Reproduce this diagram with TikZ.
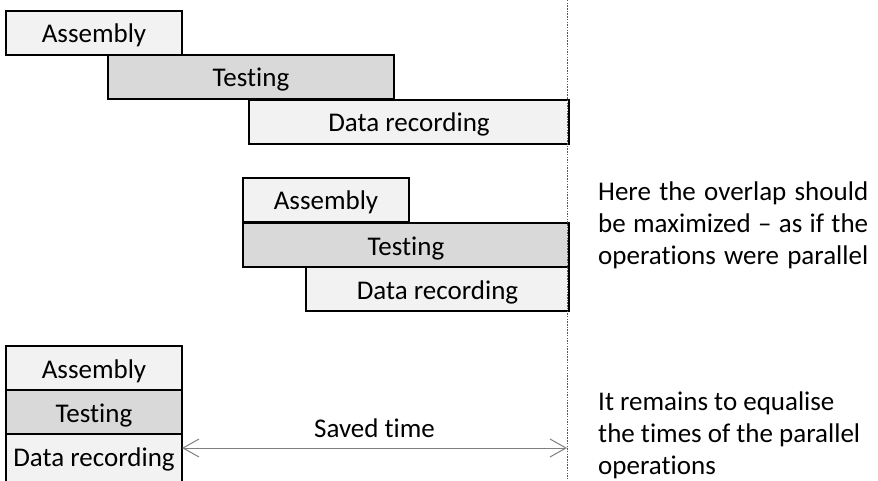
\documentclass[tikz,border=0pt]{standalone}
\usepackage{fontspec}
\setmainfont{Carlito}[Ligatures={TeX,CommonOff}]
\usetikzlibrary{arrows.meta}
\definecolor{opLight}{HTML}{F2F2F2}
\definecolor{opDark}{HTML}{D9D9D9}
\definecolor{guideGray}{HTML}{7F7F7F}
\definecolor{dashGray}{HTML}{595959}
\tikzset{
  opbox/.style={draw=black, line width=2pt, anchor=north west, minimum height=44pt,
    inner xsep=2pt, text height=23pt, text depth=3pt},
  lightop/.style={opbox, fill=opLight},
  darkop/.style={opbox, fill=opDark},
  note/.style={anchor=west, align=left, inner sep=0pt},
}
\begin{document}
\begin{tikzpicture}[x=1pt,y=-1pt,font=\fontsize{27pt}{32pt}\selectfont]
			\useasboundingbox (0,0) rectangle (878,481);
			% sequential
			\node[lightop, minimum width=176pt] (asmTop) at (5,10) {Assembly};
			\node[darkop, minimum width=286pt] (tstTop) at (107,54) {Testing};
			\node[lightop, minimum width=320pt] (recTop) at (248,99) {Data recording};
			% overlapped
			\node[lightop, minimum width=166pt] (asmMid) at (242,177) {Assembly};
			\node[darkop, minimum width=326pt] (tstMid) at (242,222) {Testing};
			\node[lightop, minimum width=263pt] (recMid) at (305,266) {Data recording};
			% parallel
			\node[lightop, minimum width=176pt] (asmBot) at (5,345) {Assembly};
			\node[darkop, minimum width=176pt] (tstBot) at (5,389) {Testing};
			\node[lightop, minimum width=176pt, inner ysep=0pt, text height=32pt, text depth=20pt] (recBot) at (5,433) {Data recording};
			\coordinate (guideTop) at (567.5,0);
			\coordinate (guideBot) at (567.5,481);
			\draw[dashGray, line width=1pt, dash pattern=on 1.5pt off 1.2pt] (guideTop) -- (guideBot);
			\coordinate (savedL) at (182,448);
			\coordinate (savedR) at (567,448);
			\draw[guideGray, line width=1pt, {Straight Barb[length=16pt,width=18pt]}-{Straight Barb[length=16pt,width=18pt]}] (savedL) -- node[above=6pt, text=black] (savedTxt) {Saved time} (savedR);
			\node[note] (noteMid) at (598,225) {\makebox[270pt][s]{Here the overlap should}\\
				\makebox[270pt][s]{be maximized – as if the}\\
				\makebox[270pt][s]{operations were parallel}};
			\node[note] (noteBot) at (598,435) {It remains to equalise\\ the times of the parallel\\ operations};
		\end{tikzpicture}
\end{document}
